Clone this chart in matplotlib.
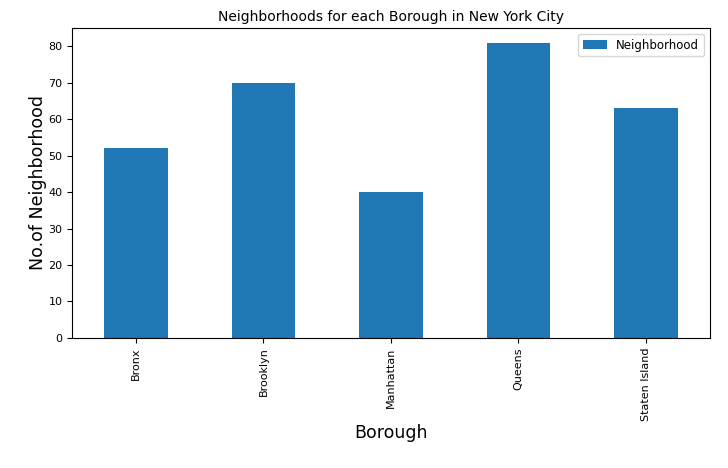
import matplotlib
matplotlib.use("Agg")
import matplotlib.pyplot as plt

boroughs = ["Bronx", "Brooklyn", "Manhattan", "Queens", "Staten Island"]
neighborhoods = [52, 70, 40, 81, 63]
series_name = "Neighborhood"

fig = plt.figure(figsize=(7.28, 4.68), dpi=100)
ax = fig.add_axes([0.099, 0.278, 0.876, 0.662])
x = range(len(boroughs))
ax.bar(x, neighborhoods, width=0.5, color="#1f77b4", label=series_name)
ax.set_xlim(-0.5, len(boroughs) - 0.5)
ax.set_ylim(0, max(neighborhoods) * 1.05)
ax.set_xticks(list(x))
ax.set_xticklabels(boroughs, rotation=90, fontsize=8)
ax.tick_params(axis="y", labelsize=8)
ax.set_title("Neighborhoods for each Borough in New York City", fontsize=10, pad=5)
ax.set_xlabel("Borough", fontsize=12.5, labelpad=2)
ax.set_ylabel("No.of Neighborhood", fontsize=12.5, labelpad=1)
ax.legend(loc="upper right", fontsize=8.5)
fig.savefig("out.png", dpi=100)
